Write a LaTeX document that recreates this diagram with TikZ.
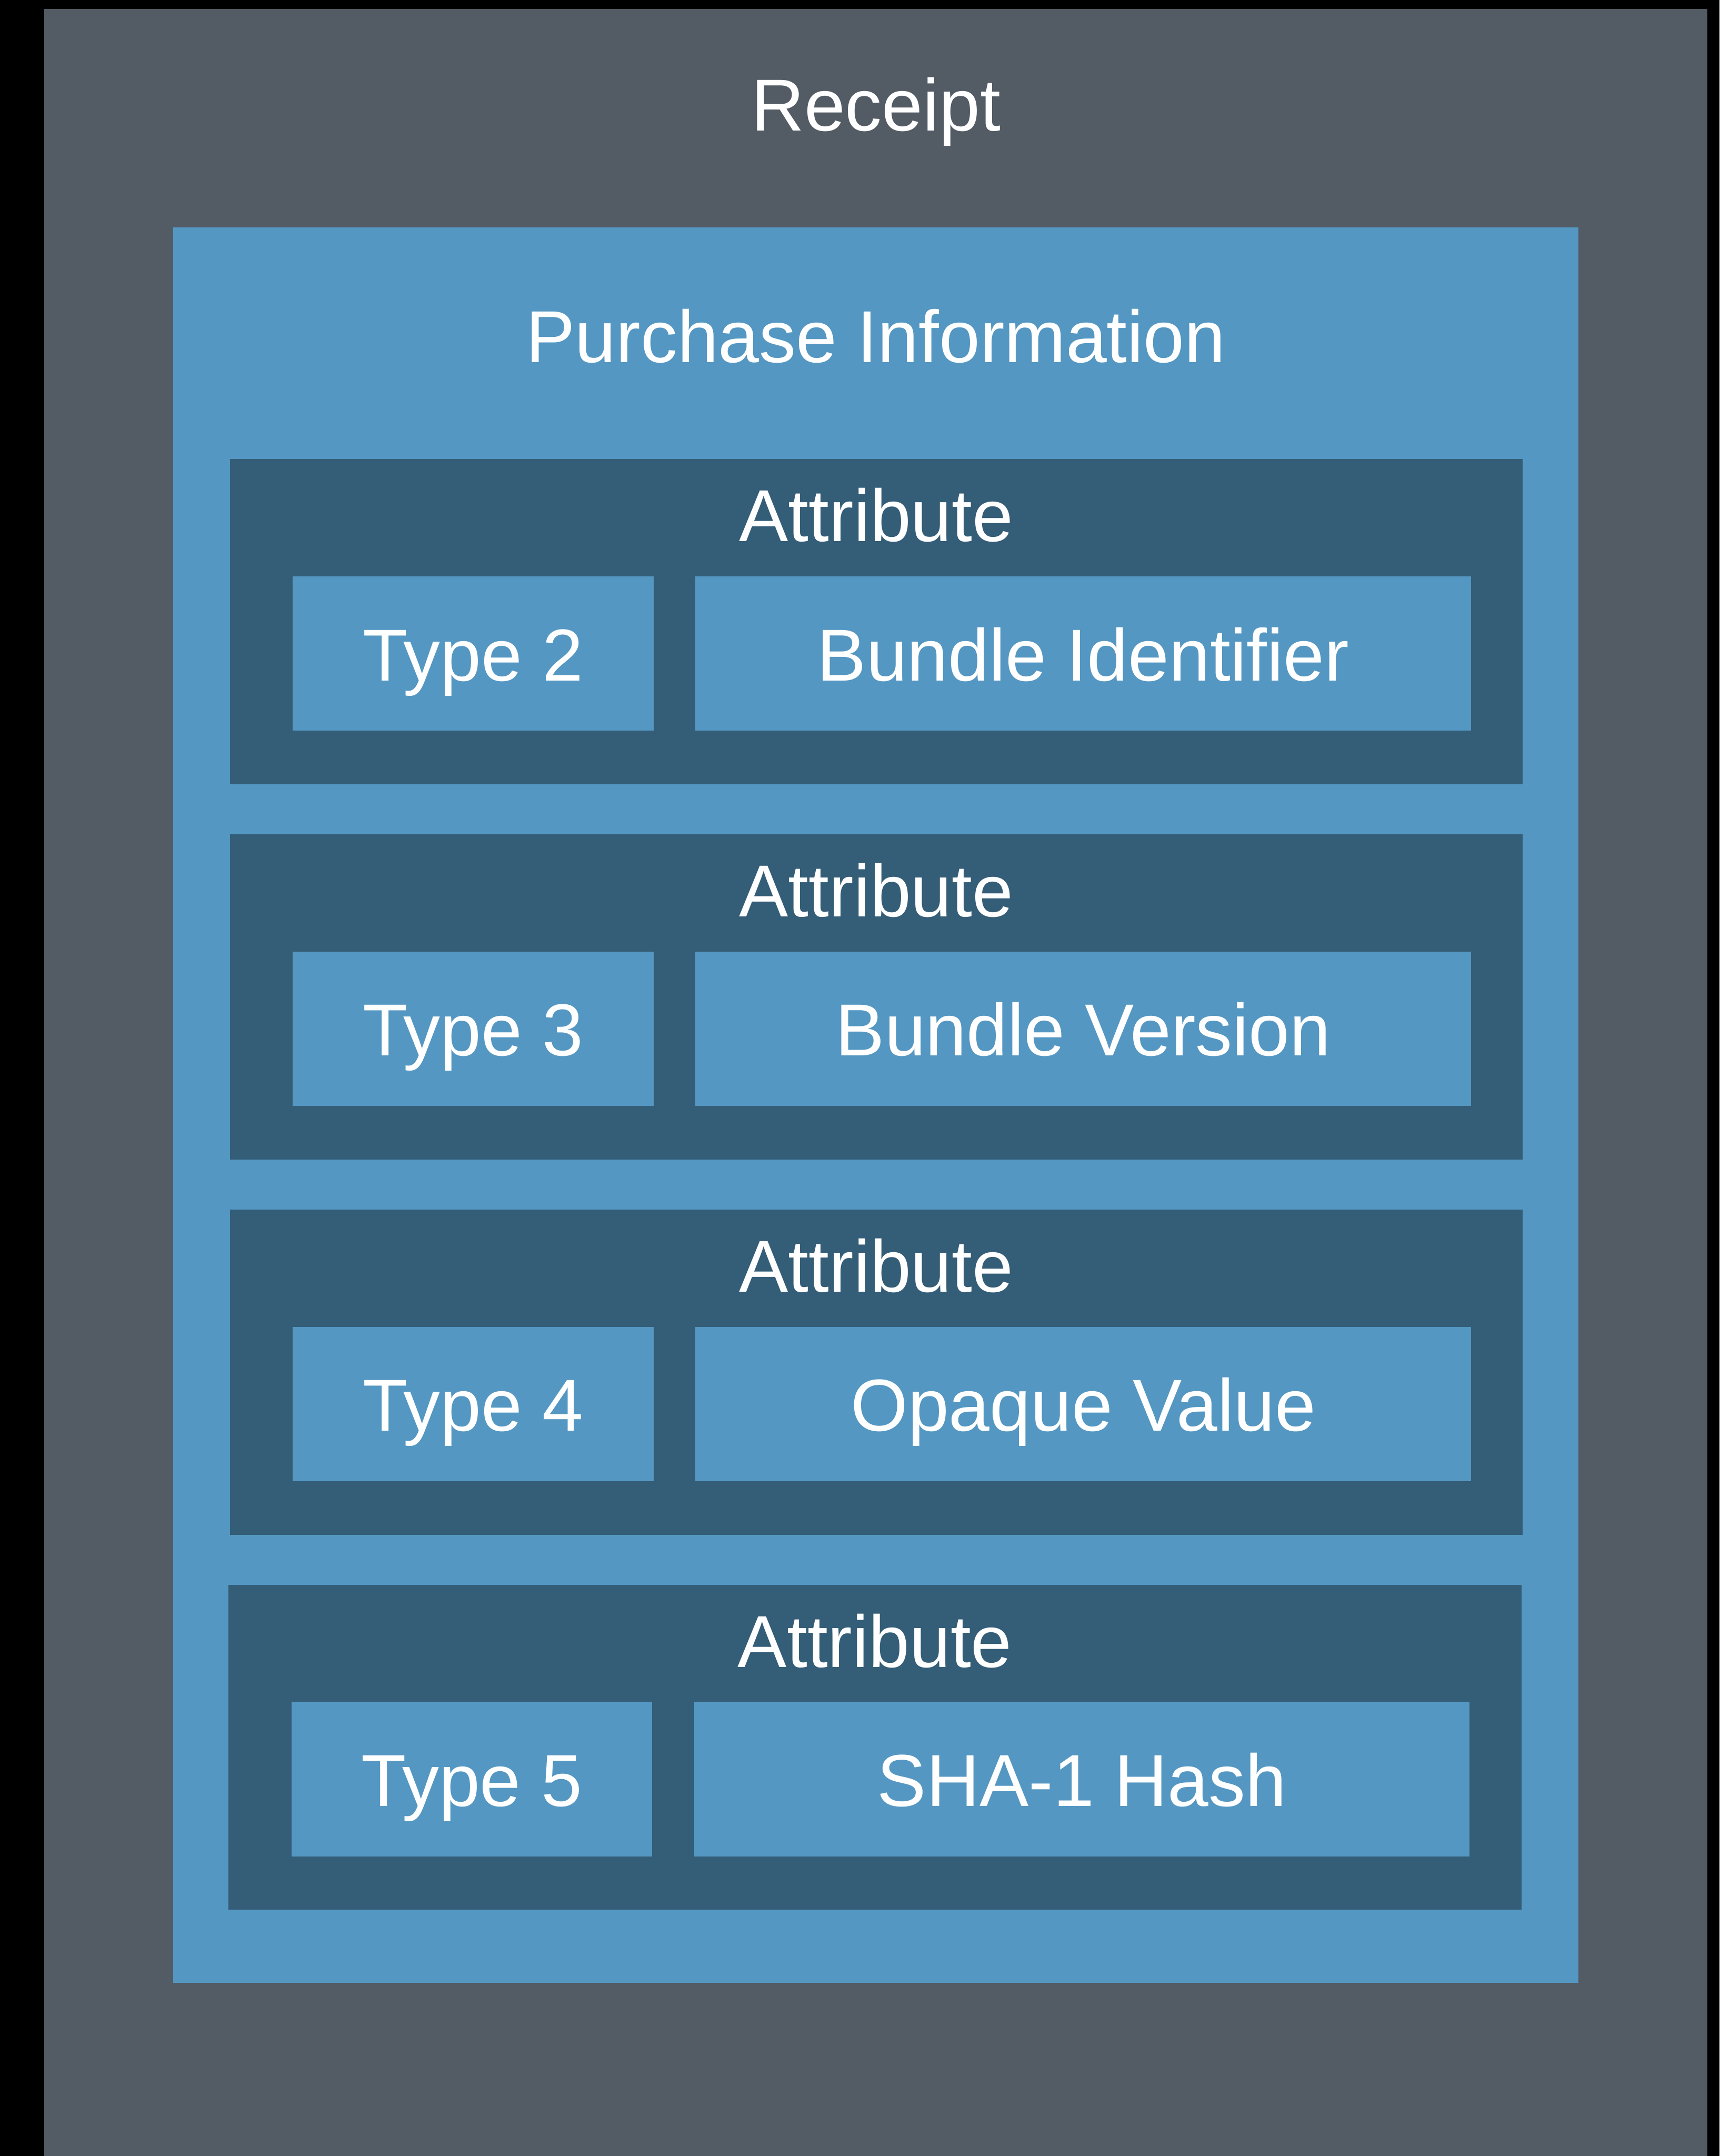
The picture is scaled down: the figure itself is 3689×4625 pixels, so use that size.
\documentclass[tikz,border=0pt]{standalone}
\usepackage{fontspec}
\setmainfont{Liberation Sans}
\definecolor{receiptgray}{RGB}{83,91,100}
\definecolor{infoblue}{RGB}{84,151,194}
\definecolor{attrdark}{RGB}{52,93,119}
\begin{document}
\begin{tikzpicture}[x=0.01cm,y=-0.01cm,
  caption/.style={text=white,font=\fontsize{44.9pt}{54pt}\selectfont,inner sep=0pt,anchor=base}]
  % canvas
  \fill[black] (0,0) rectangle (3689,4625);
  \useasboundingbox (0,0) rectangle (3689,4625);
  % receipt container
  \fill[receiptgray] (95,19) rectangle (3663,4625);
  \node[caption] (receipt) at (1879,281) {Receipt};
  % purchase information container
  \fill[infoblue] (372,488) rectangle (3386,4253);
  \node[caption] (purchase) at (1879,777) {Purchase Information};
  % attributes
  \foreach \i/\t/\v/\dx in {0/2/Bundle Identifier/0, 1/3/Bundle Version/0, 2/4/Opaque Value/0, 3/5/SHA-1 Hash/-3} {
    \begin{scope}[shift={(\dx,985+805*\i)}]
      \fill[attrdark] (493,0) rectangle (3267,697);
      \node[caption] (attr\i) at (1880,176) {Attribute};
      \fill[infoblue] (628,251) rectangle (1402,582);
      \node[caption] (type\i) at (1015,475) {Type \t};
      \fill[infoblue] (1492,251) rectangle (3156,582);
      \node[caption] (value\i) at (2324,475) {\v};
    \end{scope}
  }
\end{tikzpicture}
\end{document}
